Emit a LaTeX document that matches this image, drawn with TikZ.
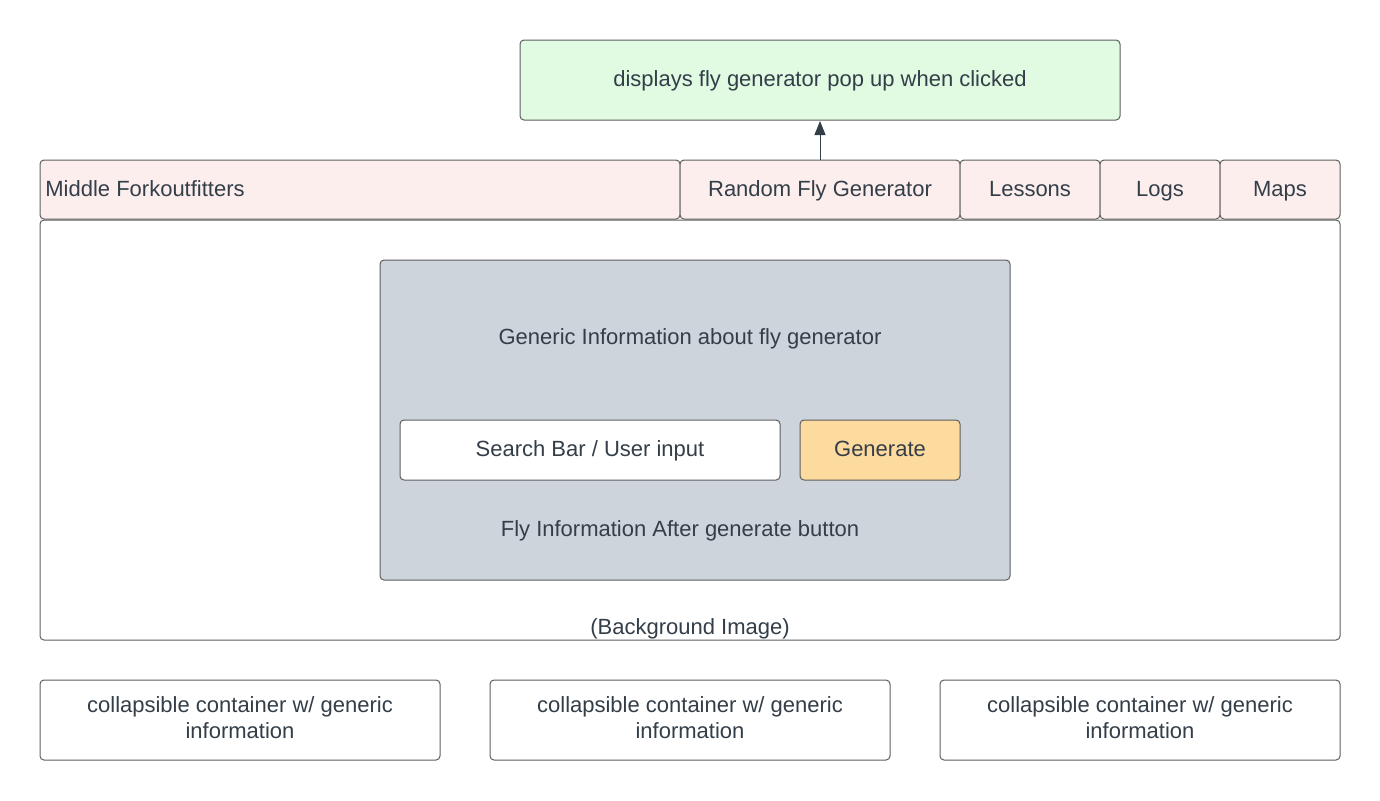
\documentclass[tikz,border=0pt]{standalone}
\usepackage{fontspec}
\setmainfont{Liberation Sans}
\usetikzlibrary{arrows.meta}
\definecolor{bordc}{HTML}{5E5E5E}
\definecolor{txtc}{HTML}{333E48}
\definecolor{greenf}{HTML}{E1FAE2}
\definecolor{pinkf}{HTML}{FDEEEE}
\definecolor{grayf}{HTML}{CED4DB}
\definecolor{orangef}{HTML}{FDDA9E}
\tikzset{
  box/.style={draw=bordc, line width=0.5pt, rounded corners=2pt},
  lbl/.style={text=txtc, font=\fontsize{11}{13}\selectfont, align=center, text height=8pt, text depth=2.4pt, yshift=-1.2pt},
  lbl2/.style={text=txtc, font=\fontsize{11}{13}\selectfont, align=center},
}
\begin{document}
\begin{tikzpicture}[x=0.5pt,y=-0.5pt]
\useasboundingbox (0,0) rectangle (1380,800);
% top popup box
\draw[box, fill=greenf] (520,40) rectangle (1120,120);
\node[lbl] (popup) at (820,78) {displays fly generator pop up when clicked};
\coordinate (popB) at (820,120);
% nav bar
\draw[box, fill=pinkf] (40,160) rectangle (680,219);
\node[lbl, anchor=west, inner xsep=2.5pt] (brand) at (40,188) {Middle Forkoutfitters};
\draw[box, fill=pinkf] (680,160) rectangle (960,219);
\node[lbl] (rfg) at (820,188) {Random Fly Generator};
\coordinate (rfgT) at (820,160);
\draw[box, fill=pinkf] (960,160) rectangle (1100,219);
\node[lbl] (lessons) at (1030,188) {Lessons};
\draw[box, fill=pinkf] (1100,160) rectangle (1220,219);
\node[lbl] (logs) at (1160,188) {Logs};
\draw[box, fill=pinkf] (1220,160) rectangle (1340,219);
\node[lbl] (maps) at (1280,188) {Maps};
\draw[txtc, line width=0.5pt, -{Triangle[length=7pt,width=5.5pt]}, shorten >=0.5pt] (rfgT) -- (popB);
% main container
\draw[box, fill=white] (40,220) rectangle (1340,640);
\node[lbl] (bg) at (690,626) {(Background Image)};
% gray panel
\draw[box, fill=grayf] (380,260) rectangle (1010,580);
\node[lbl] (generic) at (690,336) {Generic Information about fly generator};
\draw[box, fill=white] (400,420) rectangle (780,480);
\node[lbl] (search) at (590,448) {Search Bar / User input};
\draw[box, fill=orangef] (800,420) rectangle (960,480);
\node[lbl] (gen) at (880,448) {Generate};
\node[lbl] (flyinfo) at (680,528) {Fly Information After generate button};
% bottom containers
\draw[box, fill=white] (40,680) rectangle (440,760);
\node[lbl2] (c1) at (240,718) {collapsible container w/ generic\\information};
\draw[box, fill=white] (490,680) rectangle (890,760);
\node[lbl2] (c2) at (690,718) {collapsible container w/ generic\\information};
\draw[box, fill=white] (940,680) rectangle (1340,760);
\node[lbl2] (c3) at (1140,718) {collapsible container w/ generic\\information};
\end{tikzpicture}
\end{document}
